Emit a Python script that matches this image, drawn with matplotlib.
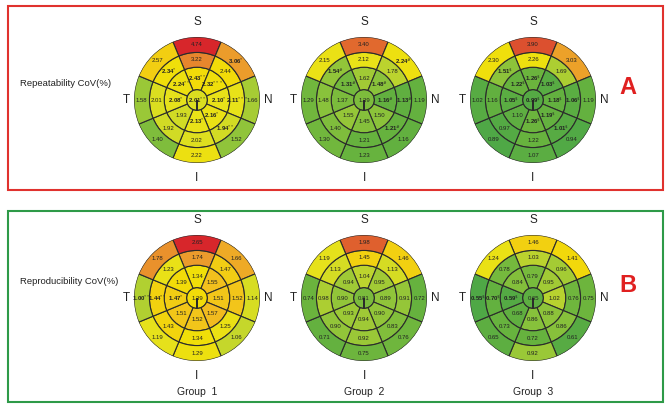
"""Bullseye maps of repeatability / reproducibility CoV(%) for three groups."""

import matplotlib
matplotlib.use("Agg")
import matplotlib.pyplot as plt
import numpy as np
from matplotlib.colors import LinearSegmentedColormap, Normalize
from matplotlib.patches import Rectangle

plt.rcParams["font.family"] = ["Liberation Sans", "DejaVu Sans"]

# sector order (clockwise from top): S, S-N, N, I-N, I, I-T, T, S-T
# each chart: [center, inner ring, middle ring, outer ring]
rep_g1 = [2.01,
          [2.43, 2.32, 2.10, 2.16, 2.13, 1.93, 2.08, 2.24],
          [3.22, 2.44, 2.11, 1.94, 2.02, 1.92, 2.01, 2.34],
          [4.74, 3.06, 1.66, 1.52, 2.22, 1.40, 1.58, 2.57]]
rep_g1_sig = ["**",
              ["**", "***", "*", "*", "*", "", "*", "**"],
              ["", "", "***", "**", "", "", "", "*"],
              ["", "*", "", "", "", "", "", ""]]

rep_g2 = [1.39,
          [1.62, 1.48, 1.16, 1.50, 1.45, 1.55, 1.37, 1.31],
          [2.12, 1.78, 1.13, 1.21, 1.21, 1.40, 1.48, 1.54],
          [3.40, 2.24, 1.19, 1.16, 1.23, 1.30, 1.29, 2.15]]
rep_g2_sig = ["",
              ["", "#", "#", "", "", "", "", "#"],
              ["", "", "#", "#", "", "", "", "#"],
              ["", "#", "", "", "", "", "", ""]]

rep_g3 = [0.99,
          [1.26, 1.03, 1.18, 1.19, 1.26, 1.10, 1.05, 1.22],
          [2.26, 1.69, 1.06, 1.01, 1.22, 0.97, 1.16, 1.51],
          [3.90, 3.03, 1.19, 0.94, 1.07, 0.89, 1.02, 2.30]]
rep_g3_sig = ["$",
              ["$", "$", "$", "$", "$", "", "$", "$"],
              ["", "", "$", "$", "", "", "", "$"],
              ["", "", "", "", "", "", "", ""]]

repro_g1 = [1.39,
            [1.34, 1.55, 1.51, 1.57, 1.52, 1.51, 1.47, 1.39],
            [1.74, 1.47, 1.52, 1.25, 1.34, 1.43, 1.44, 1.23],
            [2.65, 1.66, 1.14, 1.06, 1.29, 1.19, 1.00, 1.78]]
repro_g1_sig = ["",
                ["", "", "", "", "", "", "*", ""],
                ["", "", "", "", "", "", "**", ""],
                ["", "", "", "", "", "", "**", ""]]

repro_g2 = [0.81,
            [1.04, 0.95, 0.89, 0.90, 0.94, 0.93, 0.90, 0.94],
            [1.45, 1.13, 0.91, 0.83, 0.92, 0.90, 0.98, 1.13],
            [1.98, 1.46, 0.72, 0.76, 0.75, 0.71, 0.74, 1.19]]
repro_g2_sig = ["", [""] * 8, [""] * 8, [""] * 8]

repro_g3 = [0.65,
            [0.79, 0.95, 1.02, 0.88, 0.86, 0.68, 0.59, 0.84],
            [1.03, 0.96, 0.76, 0.86, 0.72, 0.73, 0.70, 0.78],
            [1.46, 1.41, 0.75, 0.61, 0.92, 0.65, 0.55, 1.24]]
repro_g3_sig = ["",
                ["", "", "", "", "", "", "$", ""],
                ["", "", "", "", "", "", "$", ""],
                ["", "", "", "", "", "", "$", ""]]

group_labels = ["Group  1", "Group  2", "Group  3"]
row_titles = ["Repeatability CoV(%)", "Reproducibility CoV(%)"]
row_letters = ["A", "B"]

cmap = LinearSegmentedColormap.from_list("cov", [
    (0.00, "#4fa846"), (0.08, "#66b23e"), (0.16, "#8fc43a"),
    (0.24, "#c3d62c"), (0.31, "#e8e21a"), (0.39, "#f2de06"),
    (0.47, "#f2c21c"), (0.57, "#eb9a2c"), (0.66, "#e0642e"),
    (0.85, "#da4430"), (1.00, "#d7262b")])
norms = [Normalize(0.9, 4.74), Normalize(0.55, 2.65)]

W, H = 669, 405
fig = plt.figure(figsize=(W / 100, H / 100), dpi=100)

edges = [0.0, 0.165, 0.52, 0.755, 1.0]
R = 63
centers_x = [197, 364, 533]
centers_y = [100, 298]
charts = [[(rep_g1, rep_g1_sig), (rep_g2, rep_g2_sig), (rep_g3, rep_g3_sig)],
          [(repro_g1, repro_g1_sig), (repro_g2, repro_g2_sig), (repro_g3, repro_g3_sig)]]


def fmt(v, mark):
    s = f"{v:.2f}"
    if mark:
        s += r"$^{" + mark.replace("$", r"\$").replace("#", r"\#") + "}$"
    return s


theta = np.arange(8) * 2 * np.pi / 8
for row, cy in enumerate(centers_y):
    norm = norms[row]
    for col, cx in enumerate(centers_x):
        vals, sig = charts[row][col]
        ax = fig.add_axes([(cx - R) / W, (H - cy - R) / H, 2 * R / W, 2 * R / H],
                          projection="polar")
        ax.set_theta_zero_location("N")
        ax.set_theta_direction(-1)
        ax.bar(0, edges[1], width=2 * np.pi, bottom=0, color=cmap(norm(vals[0])),
               edgecolor="#2b2b2b", linewidth=0.8)
        ax.text(0, 0, fmt(vals[0], sig[0]), ha="center", va="center", fontsize=4.3,
                fontweight="bold" if sig[0] else "normal", color="#222222")
        for ring in range(1, 4):
            lo, hi = edges[ring], edges[ring + 1]
            ax.bar(theta, hi - lo, width=2 * np.pi / 8, bottom=lo,
                   color=[cmap(norm(v)) for v in vals[ring]],
                   edgecolor="#2b2b2b", linewidth=0.8)
            for t, v, m in zip(theta, vals[ring], sig[ring]):
                ax.text(t, (lo + hi) / 2, fmt(v, m), ha="center", va="center",
                        fontsize=4.3, fontweight="bold" if m else "normal",
                        color="#222222")
        ax.set_ylim(0, 1)
        ax.set_axis_off()

        for lab, dx, dy in [("S", 0, -78), ("I", 0, 78), ("T", -71, 0), ("N", 71, 0)]:
            fig.text((cx + dx) / W, 1 - (cy + dy) / H, lab, ha="center",
                     va="center", fontsize=8.5, color="#222222")
        if row == 1:
            fig.text(cx / W, 1 - 392 / H, group_labels[col], ha="center",
                     va="center", fontsize=7.5, color="#222222")

    fig.text(20 / W, 1 - (cy - 17) / H, row_titles[row], ha="left", va="center",
             fontsize=6.8, color="#222222")
    fig.text(628 / W, 1 - (cy - 12) / H, row_letters[row], ha="center",
             va="center", fontsize=17, fontweight="bold", color="#e02020")

for (x0, y0, x1, y1), c in [((8, 6, 663, 190), "#e0322e"), ((8, 211, 663, 402), "#2e9a48")]:
    fig.add_artist(Rectangle((x0 / W, 1 - y1 / H), (x1 - x0) / W, (y1 - y0) / H,
                             transform=fig.transFigure, fill=False, edgecolor=c,
                             linewidth=1.5))

fig.savefig("out.png", dpi=100)
